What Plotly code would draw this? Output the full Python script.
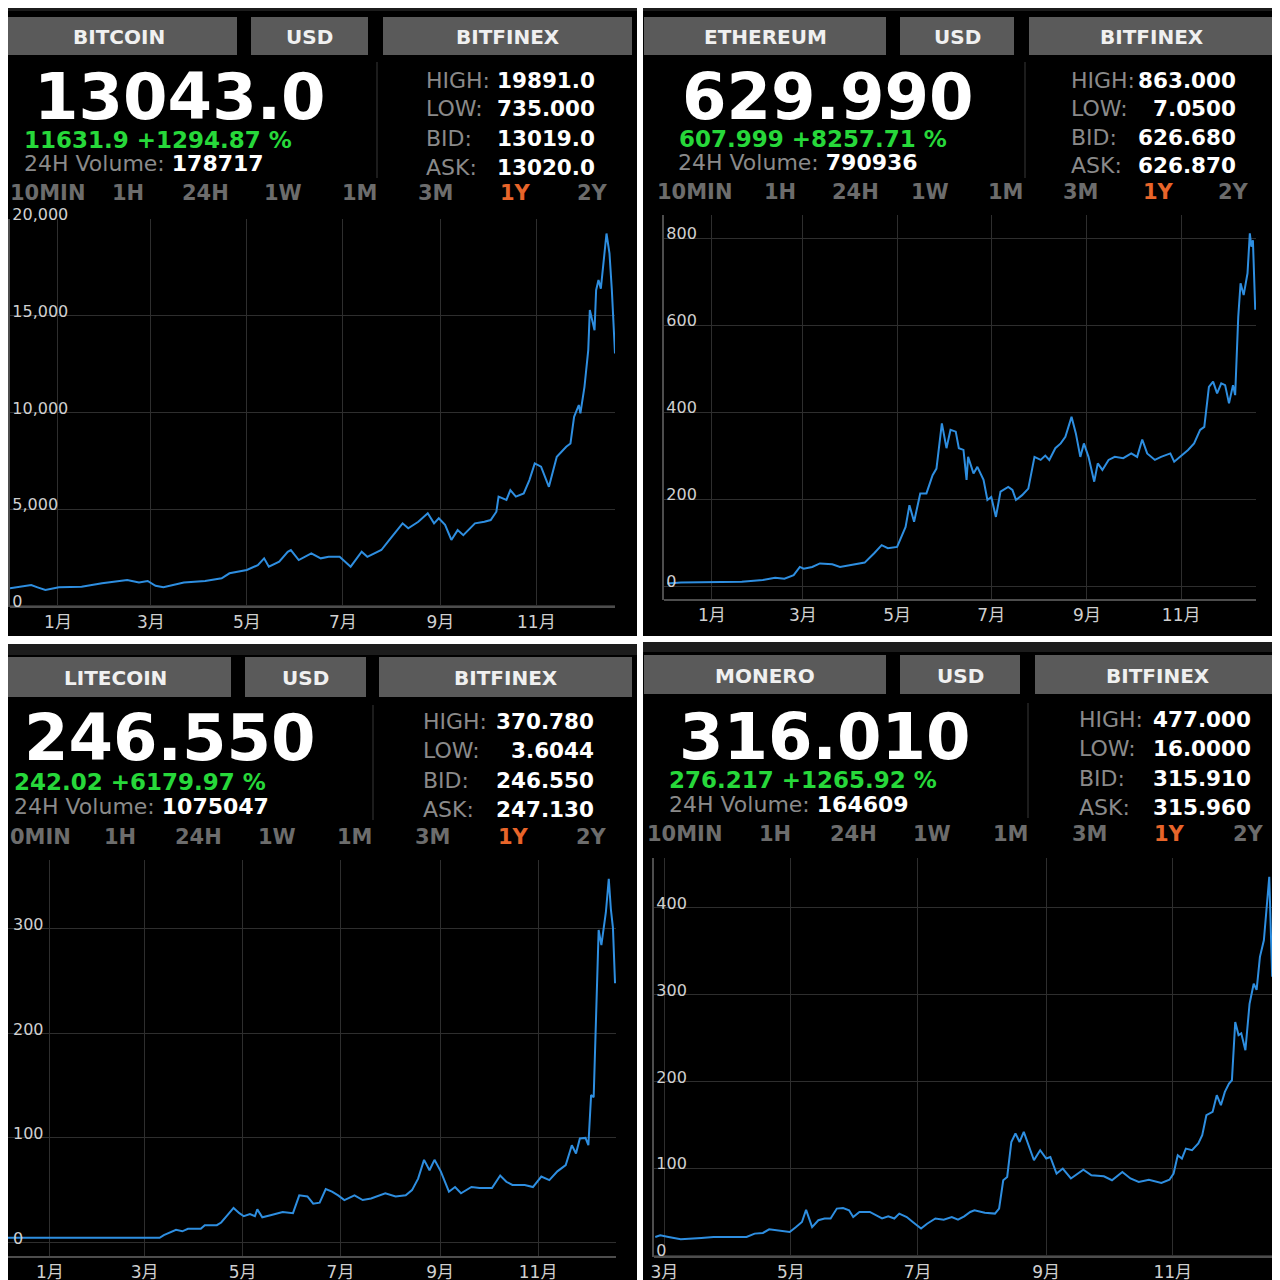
import pandas as pd
import plotly.graph_objects as go

# the page body keeps an 8px margin: everything is laid out 8px up/left so it lands on the window pixels
OFF = 8
W, H = 1280, 1280
BASE = pd.Timestamp("2017-01-01")

# ---- header texts ----
coins = ["BITCOIN", "ETHEREUM", "LITECOIN", "MONERO"]
quote = "USD"
exchange = "BITFINEX"
prices = ["13043.0", "629.990", "246.550", "316.010"]
changes = ["11631.9 +1294.87 %", "607.999 +8257.71 %", "242.02 +6179.97 %", "276.217 +1265.92 %"]
volumes = ["178717", "790936", "1075047", "164609"]
highs = ["19891.0", "863.000", "370.780", "477.000"]
lows = ["735.000", "7.0500", "3.6044", "16.0000"]
bids = ["13019.0", "626.680", "246.550", "315.910"]
asks = ["13020.0", "626.870", "247.130", "315.960"]
stat_labels = ["HIGH:", "LOW:", "BID:", "ASK:"]
periods = ["10MIN", "1H", "24H", "1W", "1M", "3M", "1Y", "2Y"]
periods_bl = ["0MIN", "1H", "24H", "1W", "1M", "3M", "1Y", "2Y"]
month_ticks = ["2017-01-01", "2017-03-01", "2017-05-01", "2017-07-01", "2017-09-01", "2017-11-01"]
month_labels = ["1月", "3月", "5月", "7月", "9月", "11月"]

# ---- price series: (days since 2017-01-01, USD) ----
btc_points = [
    (-30.5, 900), (-17, 1070), (-13, 950), (-8, 810), (0.6, 950), (15, 980), (28, 1160), (44, 1330), (51.5, 1200), (57, 1280),
    (62, 1030), (67, 950), (80, 1200), (93.5, 1280), (104, 1415), (109, 1675), (120, 1845), (127, 2100), (131, 2450), (134, 2020),
    (140.6, 2280), (146, 2790), (148, 2880), (153, 2360), (161, 2710), (167, 2450), (172, 2530), (179, 2530), (186, 2020), (193, 2790),
    (196.6, 2530), (205.5, 2880), (210.6, 3400), (219, 4260), (222.6, 4000), (229, 4340), (235, 4780), (239, 4260), (242, 4520), (246, 4180),
    (250, 3400), (254, 3910), (257.6, 3650), (265, 4260), (271, 4340), (275, 4430), (278.6, 4860), (280, 5640), (285, 5470), (287.5, 5980),
    (291, 5640), (296, 5810), (299.6, 6500), (303, 7360), (307, 7190), (312, 6150), (317, 7700), (323, 8220), (325.7, 8390), (328, 9770),
    (331, 10380), (332, 9950), (334.6, 11320), (337, 13220), (338, 15290), (341, 14250), (342, 16320), (343.5, 16840), (345, 16400), (348.6, 19250),
    (350.5, 18220), (352, 16320), (354, 13050),
]
eth_points = [
    (-29, 6), (-20, 8), (19.4, 10), (33, 14), (41, 19), (47, 17), (53, 25), (57, 44), (59.5, 40), (65, 44),
    (70, 52), (78, 50), (83, 44), (88.6, 48), (99, 54), (105, 75), (110, 94), (114, 87), (120, 90), (125.5, 136),
    (128, 186), (131, 148), (135, 213), (139, 213), (143, 255), (145.5, 270), (149, 374), (152, 317), (154.6, 359), (158, 355),
    (160, 317), (163, 313), (165, 244), (166, 297), (169.5, 259), (172, 274), (176, 244), (178.5, 198), (181, 205), (184, 159),
    (187, 217), (192, 228), (194.7, 221), (197, 198), (201, 209), (205, 224), (209, 297), (213, 290), (216, 300), (218.6, 290),
    (222.5, 317), (226, 328), (229, 343), (233, 389), (235.8, 351), (238.7, 297), (241, 328), (244, 297), (247.7, 240), (250, 282),
    (253, 267), (257, 290), (261, 297), (266.5, 294), (271.7, 305), (275.5, 297), (278.8, 337), (282, 305), (287, 290), (291, 297),
    (297, 305), (299.5, 286), (303.4, 297), (308.5, 313), (312.4, 328), (316.3, 359), (319, 366), (322, 458), (324.7, 470), (327.3, 443),
    (330, 466), (332.5, 462), (335, 420), (337.6, 462), (339, 439), (341, 619), (342.5, 696), (344.5, 669), (347, 719), (348.5, 811),
    (349.5, 780), (350.5, 795), (352, 635),
]
ltc_points = [
    (-31, 4.4), (10, 4.3), (40, 4.0), (68.4, 4.4), (71, 7), (78.6, 12), (82.5, 10.6), (86, 13), (94, 13), (96.5, 16.5),
    (104, 16.5), (106.7, 19), (110.6, 26), (114.4, 33), (118, 28), (120.8, 25), (124.6, 27), (127.7, 25), (129.2, 31.6), (132.3, 24),
    (137.4, 26), (145, 29), (151.4, 28), (155.3, 45), (160.4, 44), (164, 37), (168, 38), (171.8, 51), (175.7, 48.5), (179.5, 45),
    (183.4, 40.5), (189.7, 45), (194.8, 40.5), (200, 42), (208.9, 47), (215.3, 44), (221.6, 45), (225.5, 50), (229.3, 61), (233, 79),
    (236.4, 69), (239.5, 79), (243.4, 68), (248.5, 48.5), (252.3, 53), (256, 47), (262.5, 53), (267.6, 52), (275.3, 52), (280.4, 64),
    (284.2, 58), (288, 55), (295.7, 55), (300.8, 53), (306, 63), (311, 59.6), (316, 68), (321.2, 74), (325, 93), (327.6, 85),
    (330, 99.5), (333.5, 100), (335.3, 93), (337, 141), (338.6, 139), (340.4, 232), (341.7, 299), (343.4, 284.5), (346.2, 316), (348, 348),
    (349.3, 319), (350.6, 301), (351.9, 248),
]
xmr_points = [
    (54.6, 20.7), (57, 22.6), (61, 20.7), (66.9, 18), (76.8, 19.6), (82.7, 20.7), (92.6, 20.7), (98.6, 20.7), (102.5, 24.6), (106.5, 25.4),
    (109.5, 29.6), (114.4, 28.4), (119.4, 26.5), (122.3, 32), (125.3, 38), (127.3, 52), (130.2, 32), (133.2, 40), (136.2, 42), (139.1, 42),
    (142.1, 53.4), (145.1, 54), (148, 51.4), (150, 43.7), (153, 49.5), (158, 49.5), (160.9, 45.7), (163.9, 42), (166.9, 44.5), (169.8, 42),
    (172.2, 47.6), (175.8, 43.7), (178.7, 38), (182.7, 30.4), (185.6, 36), (189.6, 42), (193.6, 40.7), (197.5, 43.7), (200.5, 40.7), (203.5, 44.5),
    (206.4, 49.5), (208.4, 51.4), (213.4, 48.5), (218.3, 47.6), (220.3, 53.4), (222.3, 86), (224.2, 89.8), (226.2, 130), (228.2, 139.7), (230.2, 130),
    (232.2, 141.6), (234.1, 128.4), (237.1, 109), (240.1, 120.5), (243, 111), (245, 112.8), (248, 93.7), (251, 99.4), (254.9, 88), (260.9, 98.2),
    (264.8, 91.7), (270.8, 90.5), (274.7, 86), (279.7, 95.5), (283.6, 88), (287.6, 84), (292.5, 86.6), (298.5, 82.9), (302.4, 86.6), (304.4, 93.7),
    (306.4, 114.8), (308.4, 111), (310.3, 122.4), (313.3, 120.5), (316.3, 128.4), (318.2, 137.8), (320.2, 160.8), (323.2, 164.6), (325.2, 183.8), (327.2, 172.3),
    (329.1, 187.6), (331.1, 197.3), (332.5, 201), (334.1, 268), (335.7, 253), (337, 255), (339, 235.6), (341, 289), (343, 312), (344.4, 305),
    (346, 343), (347.9, 362), (349.5, 412), (350.5, 435), (351.9, 320),
]
series = [btc_points, eth_points, ltc_points, xmr_points]

# ---- screen geometry of the four screenshots (window pixels) ----
panels = [
    dict(box=(0, 0, 637, 636), strip=(0, 11), btns=[(0, 237), (251, 368), (383, 632)], btn_y=(17, 55),
         price=(180, 97), change=(22, 140), vol=(22, 163), div=(377, 62, 178), lab_x=424, val_x=597,
         rows=[80, 109, 138, 167], tf_y=193, tf_x=[8, 128, 205, 283, 360, 436, 515, 592],
         plot=(10, 615, 219, 607), xr=(-30.5, 354), yr=(-67, 20000), dtick=5000, fmt=",d", yline=True, first=0),
    dict(box=(643, 0, 1280, 636), strip=(0, 11), btns=[(644, 886), (900, 1014), (1029, 1275)], btn_y=(17, 55),
         price=(828, 97), change=(677, 139), vol=(676, 162), div=(1025, 62, 178), lab_x=1069, val_x=1238,
         rows=[80, 108, 137, 166], tf_y=192, tf_x=[655, 780, 855, 930, 1006, 1081, 1158, 1233],
         plot=(664, 1256, 215, 600), xr=(-31, 352.5), yr=(-32, 853), dtick=200, fmt="d", yline=True, first=0),
    dict(box=(0, 644, 637, 1280), strip=(644, 655), btns=[(0, 231), (245, 366), (379, 632)], btn_y=(657, 697),
         price=(170, 738), change=(12, 782), vol=(12, 806), div=(373, 705, 820), lab_x=421, val_x=596,
         rows=[721, 750, 780, 809], tf_y=837, tf_x=[8, 120, 198, 277, 355, 433, 513, 591],
         plot=(0, 616, 860, 1257), xr=(-31, 352.5), yr=(-14, 366), dtick=100, fmt="d", yline=False, first=0),
    dict(box=(643, 642, 1280, 1280), strip=(642, 652), btns=[(644, 886), (900, 1020), (1035, 1280)], btn_y=(655, 694),
         price=(825, 737), change=(667, 780), vol=(667, 804), div=(1028, 703, 818), lab_x=1077, val_x=1253,
         rows=[719, 748, 778, 807], tf_y=834, tf_x=[645, 775, 853, 932, 1011, 1090, 1169, 1248],
         plot=(654, 1273, 858, 1257), xr=(54, 352.3), yr=(-2.3, 456.7), dtick=100, fmt="d", yline=True, first=1),
]

FONT = "DejaVu Sans, Noto Sans CJK SC"
GRID = "#2e2e2e"
AXIS = "#4d4d4d"
LINE = "#2e8ee0"


def X(px):
    return (px - OFF) / W


def Y(py):
    return 1 - (py - OFF) / H


def day(d):
    return (BASE + pd.Timedelta(days=d)).isoformat()


fig = go.Figure()
shapes = []
notes = []


def text(x, y, s, size, color, anchor="center", bold=False):
    notes.append(dict(x=X(x), y=Y(y), xref="paper", yref="paper", text=f"<b>{s}</b>" if bold else s,
                      showarrow=False, xanchor=anchor, yanchor="middle",
                      font=dict(family=FONT, size=size, color=color)))


for i, p in enumerate(panels):
    x0, y0, x1, y1 = p["box"]
    shapes.append(dict(type="rect", xref="paper", yref="paper", x0=X(x0), x1=X(x1), y0=Y(y1), y1=Y(y0),
                       fillcolor="#000000", line_width=0, layer="below"))
    shapes.append(dict(type="rect", xref="paper", yref="paper", x0=X(x0), x1=X(x1), y0=Y(p["strip"][1]), y1=Y(p["strip"][0]),
                       fillcolor="#1c1c1c", line_width=0, layer="below"))
    by0, by1 = p["btn_y"]
    for (bx0, bx1), label in zip(p["btns"], [coins[i], quote, exchange]):
        shapes.append(dict(type="rect", xref="paper", yref="paper", x0=X(bx0), x1=X(bx1), y0=Y(by1), y1=Y(by0),
                           fillcolor="#5a5a5a", line_width=0, layer="below"))
        text((bx0 + bx1) / 2, (by0 + by1) / 2 + 1, label, 20, "#f0f0f0", bold=True)

    dx, dy0, dy1 = p["div"]
    shapes.append(dict(type="line", xref="paper", yref="paper", x0=X(dx), x1=X(dx), y0=Y(dy1), y1=Y(dy0),
                       line=dict(color="#262626", width=1.5), layer="below"))

    text(p["price"][0], p["price"][1], prices[i], 64, "#ffffff", bold=True)
    text(p["change"][0], p["change"][1], changes[i], 23, "#27d83a", anchor="left", bold=True)
    text(p["vol"][0], p["vol"][1],
         f"<span style='color:#8a8a8a'>24H Volume: </span><b style='color:#ffffff'>{volumes[i]}</b>",
         22, "#8a8a8a", anchor="left")

    for ry, lab, val in zip(p["rows"], stat_labels, [highs[i], lows[i], bids[i], asks[i]]):
        text(p["lab_x"], ry, lab, 22, "#8a8a8a", anchor="left")
        text(p["val_x"], ry, val, 21.5, "#ffffff", anchor="right", bold=True)

    labels = periods_bl if i == 2 else periods
    for k, (tx, lab) in enumerate(zip(p["tf_x"], labels)):
        color = "#e8652a" if lab == "1Y" else "#6c6c6c"
        text(tx, p["tf_y"], lab, 21, color, anchor="left" if k == 0 else "center", bold=True)

    # chart
    pts = series[i]
    days = [d for d, _ in pts]
    usd = [v for _, v in pts]
    dates = BASE + pd.to_timedelta(days, unit="D")
    n = "" if i == 0 else str(i + 1)
    fig.add_trace(go.Scatter(x=dates, y=usd, mode="lines", line=dict(color=LINE, width=2),
                             xaxis="x" + n, yaxis="y" + n, showlegend=False, hoverinfo="skip"))

    px0, px1, py0, py1 = p["plot"]
    r0, r1 = p["xr"]
    if px0 < OFF:  # part of the window hidden by the page margin
        r0 = r0 + (OFF - px0) * (r1 - r0) / (px1 - px0)
        px0 = OFF
    fig.layout["xaxis" + n] = dict(
        domain=[X(px0), X(px1)], anchor="free", position=Y(py1), type="date", automargin=False,
        range=[day(r0), day(r1)],
        tickvals=month_ticks[p["first"]:], ticktext=month_labels[p["first"]:],
        showgrid=True, gridcolor=GRID, gridwidth=1,
        showline=True, linecolor=AXIS, linewidth=1.5, zeroline=False, ticks="",
        tickfont=dict(family=FONT, size=17, color="#d0d0d0"), fixedrange=True)
    fig.layout["yaxis" + n] = dict(
        domain=[Y(py1), Y(py0)], anchor="x" + n, range=list(p["yr"]), automargin=False,
        tick0=0, dtick=p["dtick"], tickformat=p["fmt"], showgrid=True, gridcolor=GRID, gridwidth=1,
        showline=p["yline"], linecolor=AXIS, linewidth=1.5, zeroline=False, ticks="",
        ticklabelposition="inside top", ticklabeloverflow="allow", ticklabelshift=7, ticklabelstandoff=2,
        tickfont=dict(family=FONT, size=16, color="#d0d0d0"), fixedrange=True)

fig.update_layout(
    width=W, height=H, margin=dict(l=0, r=0, t=0, b=0, autoexpand=False),
    paper_bgcolor="#ffffff", plot_bgcolor="rgba(0,0,0,0)",
    shapes=shapes, annotations=notes, showlegend=False,
)

fig.write_html("out.html")
